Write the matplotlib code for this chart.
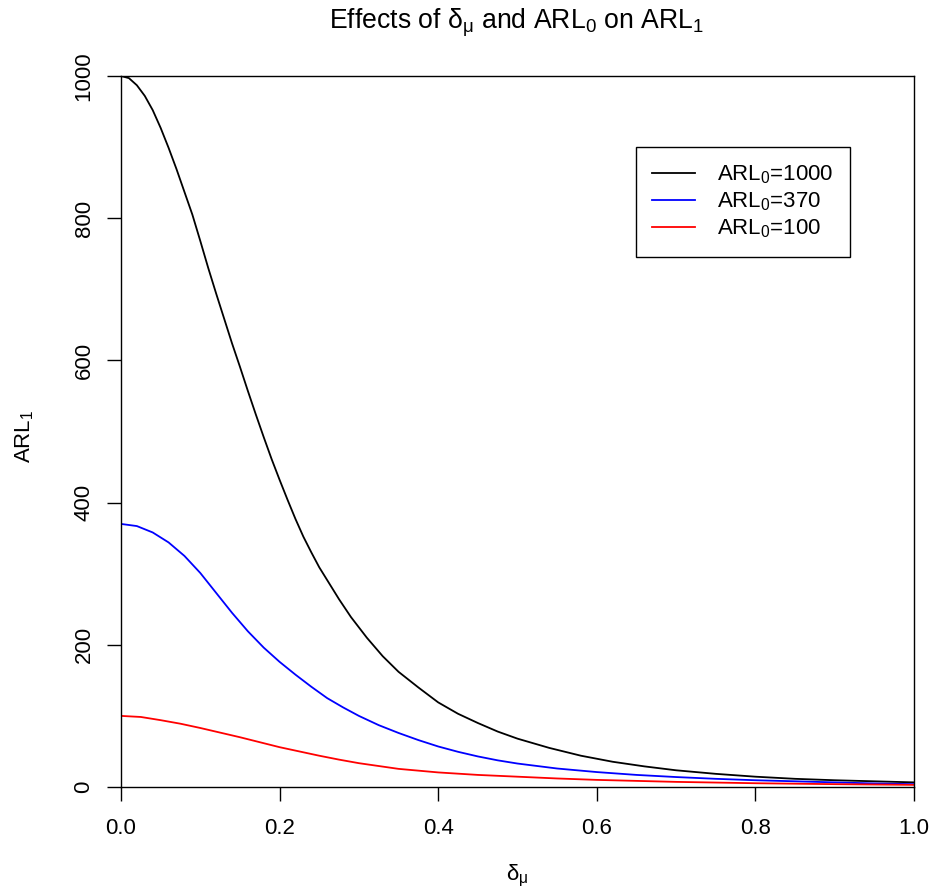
import matplotlib
matplotlib.use("Agg")
import matplotlib.pyplot as plt

# Données (ARL1 en fonction de delta_mu)
delta_1000 = [0, 0.01, 0.02, 0.03, 0.04, 0.05, 0.06, 0.07, 0.08, 0.09, 0.1,
              0.11, 0.12, 0.13, 0.14, 0.15, 0.16, 0.17, 0.18, 0.19, 0.2,
              0.21, 0.22, 0.23, 0.24, 0.25, 0.26, 0.275, 0.29, 0.31, 0.33,
              0.35, 0.375, 0.4, 0.425, 0.45, 0.475, 0.5, 0.54, 0.58, 0.62,
              0.66, 0.7, 0.75, 0.8, 0.85, 0.9, 0.95, 1.0]
arl_1000 = [1000, 997, 987, 972, 952, 927, 899, 869, 837, 805, 768,
            730, 694, 659, 624, 591, 557, 524, 492, 461, 432,
            404, 377, 352, 330, 309, 291, 264, 239, 210, 184,
            162, 140, 119, 103, 90, 78, 68, 55, 44, 35.5,
            29, 23.5, 18.5, 14.5, 11.5, 9.5, 8, 6.5]

delta_370 = [0, 0.02, 0.04, 0.06, 0.08, 0.1, 0.12, 0.14, 0.16, 0.18, 0.2,
             0.22, 0.24, 0.26, 0.28, 0.3, 0.325, 0.35, 0.375, 0.4, 0.425,
             0.45, 0.475, 0.5, 0.55, 0.6, 0.65, 0.7, 0.75, 0.8, 0.85,
             0.9, 0.95, 1.0]
arl_370 = [370, 367, 358, 344, 325, 301, 273, 245, 219, 196, 176,
           158, 141, 125, 112, 100, 87, 76, 66, 57, 49.5,
           43, 37.5, 33, 26, 21, 17, 14, 11.5, 9.5, 8,
           6.5, 5, 4]

delta_100 = [0, 0.025, 0.05, 0.075, 0.1, 0.125, 0.15, 0.175, 0.2, 0.225,
             0.25, 0.275, 0.3, 0.35, 0.4, 0.45, 0.5, 0.55, 0.6, 0.7,
             0.8, 0.9, 1.0]
arl_100 = [100, 98.5, 94, 89, 83, 76.5, 70, 63, 56, 50,
           44, 38.5, 33.5, 25.5, 20.5, 17, 14.5, 12, 10, 7.2,
           5.3, 4, 3]

labels = [r"ARL$_0$=1000", r"ARL$_0$=370", r"ARL$_0$=100"]
colors = ["black", "blue", "red"]

plt.rcParams["font.family"] = ["Liberation Sans", "DejaVu Sans"]
plt.rcParams["mathtext.fontset"] = "custom"
plt.rcParams["mathtext.rm"] = "Liberation Sans"
plt.rcParams["mathtext.it"] = "Liberation Sans"
plt.rcParams["mathtext.default"] = "regular"

fig = plt.figure(figsize=(9.31, 8.92), dpi=100)
ax = fig.add_axes([121 / 931, 1 - 787 / 892, 793 / 931, 711 / 892])

series = [(delta_1000, arl_1000), (delta_370, arl_370), (delta_100, arl_100)]
for (x, y), lab, c in zip(series, labels, colors):
    ax.plot(x, y, color=c, lw=1.3, label=lab)

ax.set_xlim(0, 1)
ax.set_ylim(0, 1000)
ax.set_xticks([0, 0.2, 0.4, 0.6, 0.8, 1.0])
ax.set_xticklabels(["0.0", "0.2", "0.4", "0.6", "0.8", "1.0"])
ax.set_yticks([0, 200, 400, 600, 800, 1000])
ax.tick_params(direction="out", length=10, width=1, labelsize=16)
ax.tick_params(axis="x", pad=12)
ax.tick_params(axis="y", pad=9)
for lab in ax.get_yticklabels():
    lab.set_rotation(90)
    lab.set_va("center")
for s in ax.spines.values():
    s.set_linewidth(1)

# titre et axes, placés comme dans R
fig.text(517 / 931, 1 - 28.5 / 892, r"Effects of $\delta_\mu$ and ARL$_0$ on ARL$_1$",
         fontsize=19.2, ha="center", va="baseline")
fig.text(517 / 931, 1 - 876 / 892, r"$\delta_\mu$", fontsize=16, ha="center", va="center")
fig.text(25 / 931, 1 - 436 / 892, r"ARL$_1$", fontsize=16, ha="center", va="center",
         rotation=90)

leg = ax.legend(loc="upper left", bbox_to_anchor=(0.649, 0.900), fontsize=16,
                fancybox=False, edgecolor="black", framealpha=1,
                handlelength=1.9, handletextpad=1.0, labelspacing=0.2,
                borderpad=0.75, borderaxespad=0)
leg.get_frame().set_linewidth(1)

plt.savefig("out.png", dpi=100)
